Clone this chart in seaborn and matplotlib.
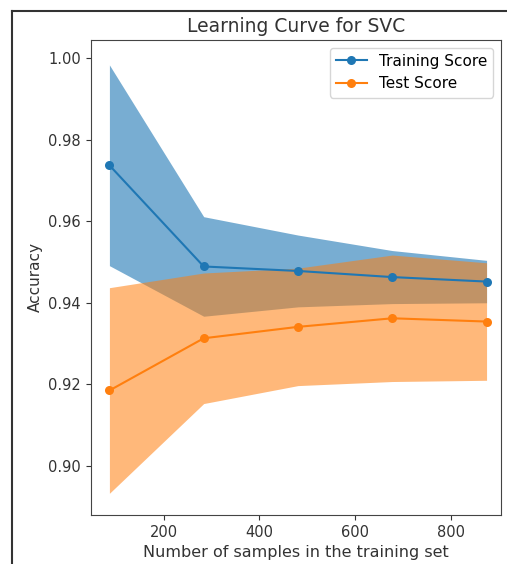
import numpy as np
import matplotlib
matplotlib.use("Agg")
import matplotlib.pyplot as plt
import seaborn as sns
from matplotlib.lines import Line2D

train_sizes = [87, 284, 481, 678, 875]
train_mean = [0.9737, 0.9489, 0.9478, 0.9463, 0.9452]
train_std = [0.0246, 0.0122, 0.0088, 0.0065, 0.0052]
test_mean = [0.9185, 0.9313, 0.9341, 0.9362, 0.9354]
test_std = [0.0252, 0.0160, 0.0144, 0.0155, 0.0144]

train_mean = np.array(train_mean)
train_std = np.array(train_std)
test_mean = np.array(test_mean)
test_std = np.array(test_std)

fig = plt.figure(figsize=(5.07, 5.64), dpi=100)
ax = fig.add_axes([0.179, 0.087, 0.809, 0.842])

# Bandas +/- desviacion estandar
ax.fill_between(train_sizes, train_mean - train_std, train_mean + train_std,
                color="C0", alpha=0.6, linewidth=0)
ax.fill_between(train_sizes, test_mean - test_std, test_mean + test_std,
                color="C1", alpha=0.55, linewidth=0)

sns.lineplot(x=train_sizes, y=train_mean, marker="o", color="C0",
             markeredgewidth=0, markersize=6.5, label="Training Score", ax=ax)
sns.lineplot(x=train_sizes, y=test_mean, marker="o", color="C1",
             markeredgewidth=0, markersize=6.5, label="Test Score", ax=ax)

ax.set_xlim(48, 905)
ax.set_ylim(0.888, 1.0044)
ax.set_xticks([200, 400, 600, 800])
ax.set_yticks([0.90, 0.92, 0.94, 0.96, 0.98, 1.00])
ax.tick_params(labelsize=10.5, colors="#333333")
for s in ax.spines.values():
    s.set_color("#444444")

ax.set_title("Learning Curve for SVC", fontsize=13.5, color="#333333")
ax.set_xlabel("Number of samples in the training set", fontsize=11.5, color="#333333")
ax.set_ylabel("Accuracy", fontsize=11, color="#333333")
ax.legend(loc="upper right", fontsize=11)

# Marco de la captura original
fig.add_artist(Line2D([12 / 507, 12 / 507], [0, 1 - 11 / 564],
                      transform=fig.transFigure, color="#333333", linewidth=1.5))
fig.add_artist(Line2D([12 / 507, 1], [1 - 11 / 564, 1 - 11 / 564],
                      transform=fig.transFigure, color="#333333", linewidth=1.5))

fig.savefig("out.png", dpi=100)
